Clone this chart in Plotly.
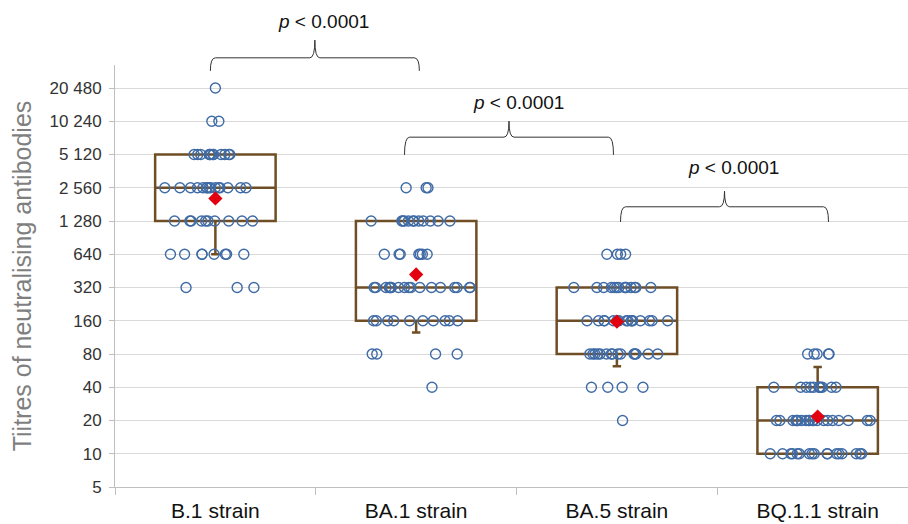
import numpy as np
import plotly.graph_objects as go

# ---------------- data ----------------
categories = ["B.1 strain", "BA.1 strain", "BA.5 strain", "BQ.1.1 strain"]

# titre levels and number of sera at each level
titre_levels = [10, 20, 40, 80, 160, 320, 640, 1280, 2560, 5120, 10240, 20480]
counts_b1   = [0, 0, 0, 0, 0, 3, 8, 10, 15, 12, 2, 1]
counts_ba1  = [0, 0, 1, 4, 10, 18, 7, 12, 3, 0, 0, 0]
counts_ba5  = [0, 1, 4, 15, 16, 14, 4, 0, 0, 0, 0, 0]
counts_bq11 = [17, 20, 11, 5, 0, 0, 0, 0, 0, 0, 0, 0]

# box statistics
q1_vals     = [1280, 160, 80, 10]
median_vals = [2560, 320, 160, 20]
q3_vals     = [5120, 1280, 320, 40]
lower_vals  = [640, 125, 62, 10]
upper_vals  = [5120, 1280, 320, 61]
mean_vals   = [2050, 420, 157, 21.7]

# y axis ticks
tick_vals = [5, 10, 20, 40, 80, 160, 320, 640, 1280, 2560, 5120, 10240, 20480]
tick_text = ["5", "10", "20", "40", "80", "160", "320", "640",
             "1 280", "2 560", "5 120", "10 240", "20 480"]

# comparisons: (left category, right category, label)
comparisons = [(0, 1, "p < 0.0001"), (1, 2, "p < 0.0001"), (2, 3, "p < 0.0001")]

# ---------------- styling ----------------
FONT = "Liberation Sans, Arial, sans-serif"
BOX_COLOR = "#6F4E25"
PT_COLOR = "#3F6BA6"
MEAN_COLOR = "#E3000F"
GRID = "#D9D9D9"
AXIS = "#BFBFBF"

all_counts = [counts_b1, counts_ba1, counts_ba5, counts_bq11]
pt_x, pt_y = [], []
for cat, cnts in zip(categories, all_counts):
    vals = np.repeat(titre_levels, cnts)
    pt_x += [cat] * len(vals)
    pt_y += vals.tolist()

fig = go.Figure()

fig.add_trace(go.Box(
    x=categories, q1=q1_vals, median=median_vals, q3=q3_vals,
    lowerfence=lower_vals, upperfence=upper_vals,
    boxpoints=False, width=0.6, whiskerwidth=0.07,
    line=dict(color=BOX_COLOR, width=2.5),
    fillcolor="rgba(0,0,0,0)", showlegend=False, hoverinfo="skip",
))

fig.add_trace(go.Box(
    x=pt_x, y=pt_y, boxpoints="all", jitter=0.9, pointpos=0, width=0.6,
    line=dict(color="rgba(0,0,0,0)", width=0),
    fillcolor="rgba(0,0,0,0)",
    marker=dict(symbol="circle", size=10, color="rgba(0,0,0,0)",
                line=dict(color=PT_COLOR, width=1.4)),
    showlegend=False,
))

fig.add_trace(go.Scatter(
    x=categories, y=mean_vals, mode="markers",
    marker=dict(symbol="diamond", size=11, color=MEAN_COLOR),
    showlegend=False,
))

# brackets with p-values
ymin, ymax = np.log10(5), 4.52
shapes, annotations = [], []
bracket_levels = [  # (bottom, line, peak, text) in paper units
    (0.986, 1.017, 1.059, 1.102),
    (0.787, 0.829, 0.867, 0.912),
    (0.628, 0.664, 0.701, 0.758),
]
bracket_pad = [(-0.025, 0.016), (-0.058, -0.017), (0.018, 0.054)]
for (a, b, label), (yb, yh, yp, yt), (pa, pb) in zip(comparisons, bracket_levels, bracket_pad):
    xa, xb = a + pa, b + pb
    xc = (xa + xb) / 2
    r = 0.025
    path = (f"M {xa},{yb} Q {xa},{yh} {xa + r},{yh} L {xc - r},{yh} "
            f"Q {xc},{yh} {xc},{yp} Q {xc},{yh} {xc + r},{yh} "
            f"L {xb - r},{yh} Q {xb},{yh} {xb},{yb}")
    shapes.append(dict(type="path", path=path, xref="x", yref="paper",
                       line=dict(color="#333333", width=1)))
    annotations.append(dict(
        x=xc + 0.045, y=yt, xref="x", yref="paper",
        xanchor="center", yanchor="middle",
        text="<i>p</i> " + label[2:].replace("<", "&lt;"),
        showarrow=False, bgcolor="white",
        font=dict(family=FONT, size=19, color="#111111"),
    ))

fig.update_layout(
    width=908, height=524,
    margin=dict(l=115, r=0, t=65, b=37),
    plot_bgcolor="white", paper_bgcolor="white",
    font=dict(family=FONT),
    boxmode="overlay",
    shapes=shapes, annotations=annotations,
    xaxis=dict(
        type="category", categoryorder="array", categoryarray=categories,
        range=[-0.5, 3.45], showgrid=False, automargin=False,
        showline=True, linecolor=AXIS, linewidth=1,
        ticks="outside", tickson="boundaries", ticklen=7, tickcolor=AXIS,
        tickfont=dict(family=FONT, size=21, color="#111111"),
        ticklabelstandoff=5,
    ),
    yaxis=dict(
        type="log", range=[ymin, ymax], automargin=False,
        tickvals=tick_vals, ticktext=tick_text,
        showgrid=True, gridcolor=GRID, gridwidth=1,
        showline=True, linecolor=AXIS, linewidth=1,
        ticks="outside", ticklen=5, tickcolor=AXIS,
        tickfont=dict(family=FONT, size=17, color="#333333"),
        ticklabelstandoff=4,
        title=dict(text="Tiitres of neutralising antibodies",
                   font=dict(family=FONT, size=25, color="#7F7F7F"),
                   standoff=10),
    ),
)

fig.write_html("out.html")
